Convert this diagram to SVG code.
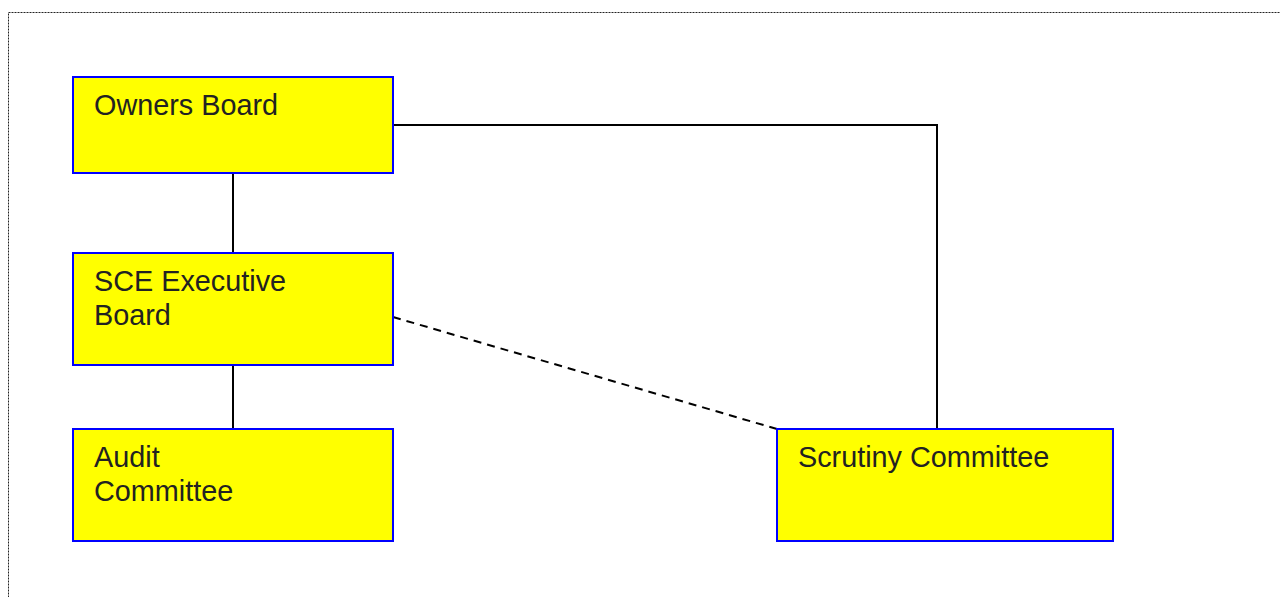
<svg xmlns="http://www.w3.org/2000/svg" width="1280" height="597" viewBox="0 0 1280 597">
<style>
.box{fill:#ffff00;stroke:#0000ff;stroke-width:2}
.lbl{font-family:"Liberation Sans",Arial,sans-serif;font-size:28.8px;fill:#222}
.ln{fill:none;stroke:#000;stroke-width:2}
.dash{fill:none;stroke:#000;stroke-width:2;stroke-dasharray:8,6}
</style>
<rect x="8.5" y="12.5" width="1290" height="600" fill="none" stroke="#222" stroke-width="1" stroke-dasharray="2,1"/>
<g id="connectors">
<line class="ln" x1="233" y1="173" x2="233" y2="253"/>
<line class="ln" x1="233" y1="365" x2="233" y2="429"/>
<polyline class="ln" points="393,125 937,125 937,429"/>
<line class="dash" x1="393" y1="317" x2="777" y2="429"/>
</g>
<g id="owners-board">
<rect class="box" x="73" y="77" width="320" height="96"/>
<text class="lbl" x="94" y="115">Owners Board</text>
</g>
<g id="sce-executive-board">
<rect class="box" x="73" y="253" width="320" height="112"/>
<text class="lbl" x="94" y="291">SCE Executive</text>
<text class="lbl" x="94" y="325">Board</text>
</g>
<g id="audit-committee">
<rect class="box" x="73" y="429" width="320" height="112"/>
<text class="lbl" x="94" y="467">Audit</text>
<text class="lbl" x="94" y="501">Committee</text>
</g>
<g id="scrutiny-committee">
<rect class="box" x="777" y="429" width="336" height="112"/>
<text class="lbl" x="798" y="467">Scrutiny Committee</text>
</g>
</svg>
